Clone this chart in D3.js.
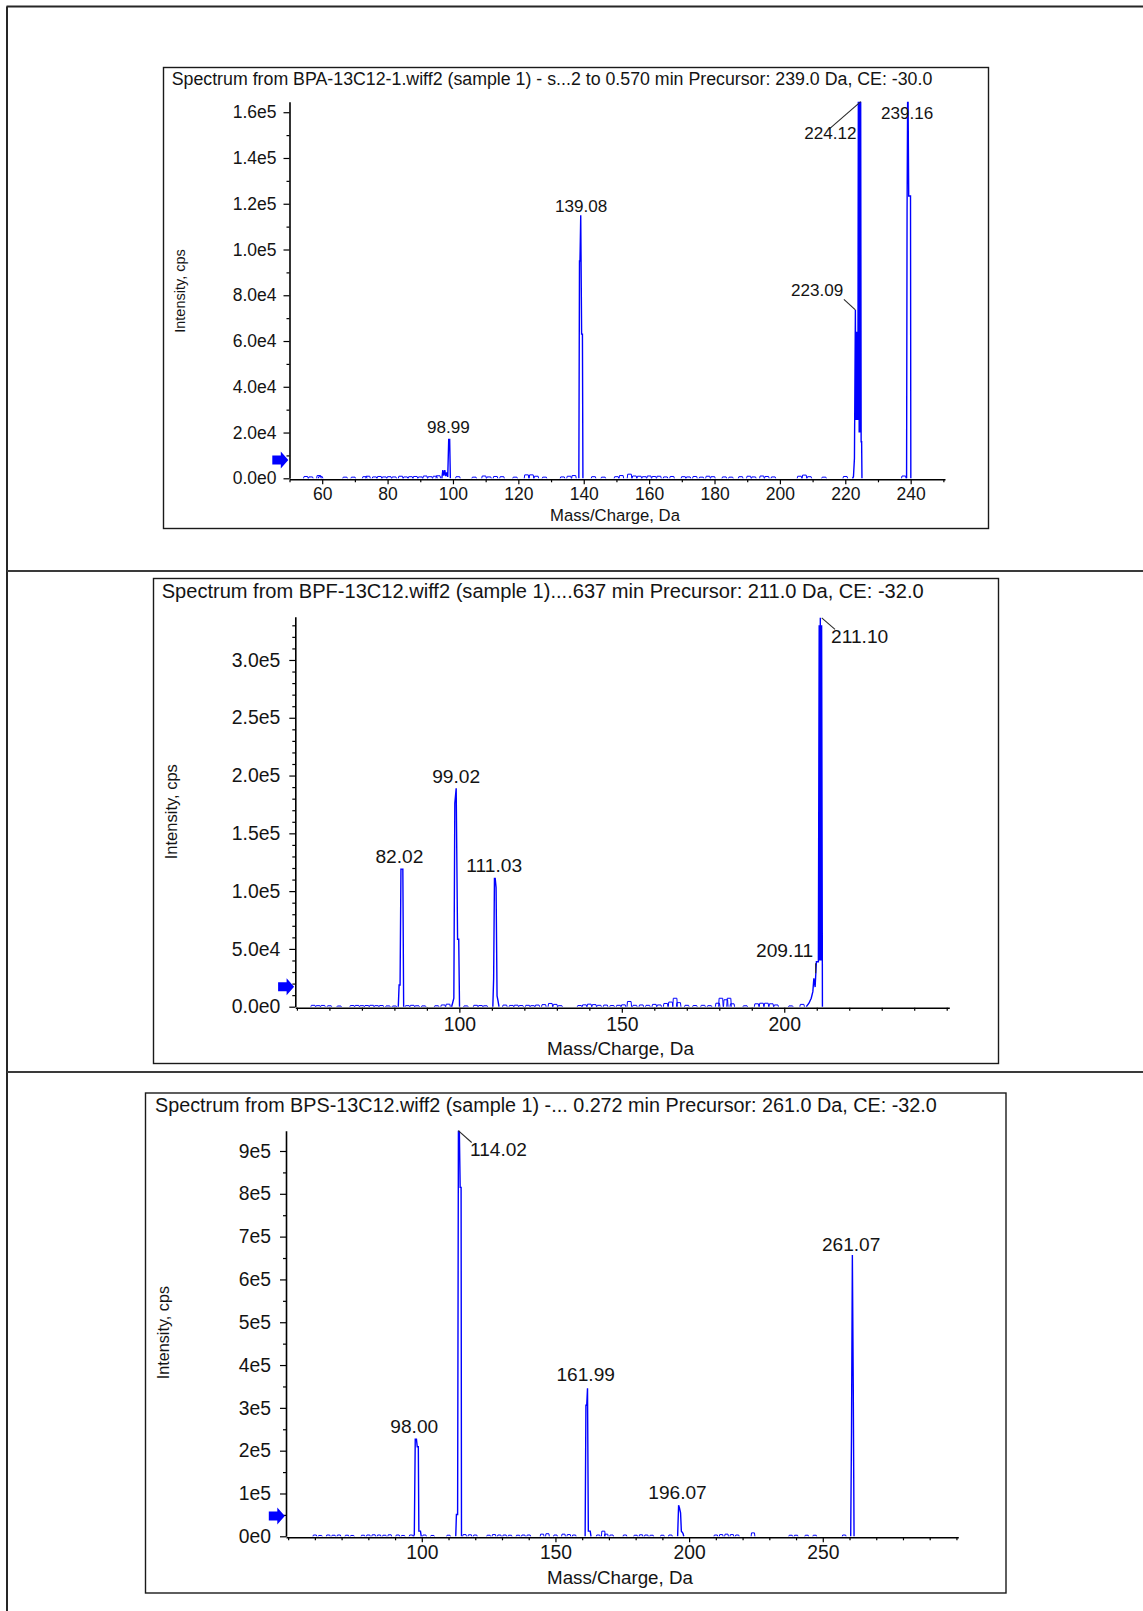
<!DOCTYPE html>
<html>
<head>
<meta charset="utf-8">
<script src="https://cdn.jsdelivr.net/npm/d3@7"></script>
<style>
  html, body { margin: 0; padding: 0; background: #fff; }
  svg { display: block; }
  text { font-family: "Liberation Sans", Arial, sans-serif; fill: #141414; }
</style>
</head>
<body>
<svg id="page" width="1143" height="1611"></svg>
<script>
// ---------------- spectrum titles ----------------
const bpaTitle = "Spectrum from BPA-13C12-1.wiff2 (sample 1) - s...2 to 0.570 min Precursor: 239.0 Da, CE: -30.0";
const bpfTitle = "Spectrum from BPF-13C12.wiff2 (sample 1)....637 min Precursor: 211.0 Da, CE: -32.0";
const bpsTitle = "Spectrum from BPS-13C12.wiff2 (sample 1) -... 0.272 min Precursor: 261.0 Da, CE: -32.0";
const xTitle = "Mass/Charge, Da";
const yTitle = "Intensity, cps";

// ---------------- BPA-13C12 (precursor 239.0) ----------------
// profile peaks: [m/z, intensity in cps]
const bpaPeaks = [
  [[96.6,0],[96.9,3600],[97.2,1200],[97.5,3600],[97.8,1000],[98.1,2600],[98.4,600],[98.7,17000],[98.99,17000],[99.2,0]],
  [[138.5,0],[138.7,95000],[138.85,95000],[139.08,115000],[139.35,63000],[139.6,63000],[139.75,0]],
  [[222.2,0],[222.5,700],[222.8,8700],[223.09,73600],[223.25,25500],[223.4,64000],[223.55,25500],[223.7,64000],[223.85,25500],[224.0,175000],[224.12,175000],[224.25,20000],[224.4,175000],[224.55,20000],[224.7,175000],[224.85,16000],[225.0,16000],[225.1,0]],
  [[238.75,0],[238.9,117300],[239.1,175000],[239.16,175000],[239.4,123400],[239.95,123400],[240.05,0]]
];
// baseline noise: [m/z, intensity in cps]
const bpaNoise = [[55,800],[56.5,600],[59,1200],[59.5,700],[67,500],[69.5,500],[73,700],[74,900],[76,600],[77.5,800],[79,600],[80.5,700],[82,600],[84,900],[85.5,600],[87,700],[88.5,800],[90,600],[91.5,1000],[93,700],[94.5,900],[95.5,1100],[101.5,700],[106.5,500],[109.5,1000],[111,600],[113,800],[115,700],[119,500],[122.5,1500],[124,1500],[125.5,900],[128,500],[133.5,600],[135.5,900],[137,1200],[143,700],[146,500],[150,700],[151.5,1200],[154,1800],[155.5,1000],[157,900],[158.5,700],[160,1000],[161.5,800],[163,900],[165,600],[167,800],[170.5,700],[172,600],[174,800],[176,500],[178,900],[179.5,700],[183,600],[185,500],[188,700],[190.5,900],[192,600],[194.5,1000],[196,800],[198,600],[206,900],[207.5,1400],[209,700],[213.5,500],[220,800],[237.9,1000]];
const bpaLabels = ["98.99","139.08","223.09","224.12","239.16"];
const bpaXTicks = [60,80,100,120,140,160,180,200,220,240];
const bpaXMinor = [50,70,90,110,130,150,170,190,210,230,250];
const bpaYTicks = [0,20000,40000,60000,80000,100000,120000,140000,160000];
const bpaYMinor = [10000,30000,50000,70000,90000,110000,130000,150000];
const bpaThreshold = 8000;

// ---------------- BPF-13C12 (precursor 211.0) ----------------
const bpfPeaks = [
  [[81.2,0],[81.45,18800],[81.75,18800],[82.02,119000],[82.6,119000],[82.85,0]],
  [[97.6,0],[97.9,3000],[98.3,7300],[98.6,176000],[99.02,189000],[99.45,58300],[99.8,58300],[100.05,0]],
  [[110.3,0],[110.55,24600],[110.8,111000],[111.03,111000],[111.3,103000],[111.6,9300],[111.9,5000],[112.2,0]],
  [[206.8,0],[207.6,3000],[208.3,7300],[208.8,13000],[209.11,24600],[209.5,17000],[209.9,38900],[210.5,38900],[210.75,330000],[210.9,40000],[211.10,336500],[211.3,40000],[211.5,330000],[211.75,0]]
];
const bpfNoise = [[55,1200],[56.5,900],[58,1100],[60,800],[63,600],[67,1000],[68.5,1100],[70,900],[71.5,1000],[73,1200],[74.5,900],[76,1000],[78,700],[80,600],[84,900],[85.5,1200],[87,800],[89,700],[93,800],[95,1500],[96.5,2200],[102,700],[105,1200],[106.5,1000],[108,800],[114,1400],[116,1100],[117.5,1300],[119,1000],[121,1200],[122.5,900],[124,1400],[126,1800],[128,2800],[129.5,2000],[131,900],[137,1000],[138.5,1600],[140,2200],[141.5,1800],[143,1200],[145,1400],[147,1000],[149,1200],[150.5,1600],[152.3,4500],[154,1200],[156,1500],[158,1200],[160,2000],[161.5,1500],[163.5,2800],[165,4000],[166.4,7300],[167.5,3500],[170,1200],[172.5,1000],[175,1200],[177,900],[179.5,3000],[180.5,7300],[182,6000],[183,7300],[184,2500],[188,800],[191.5,2500],[193,3000],[194.5,3000],[196,2500],[197.5,1500],[202,700],[205.5,2000]];
const bpfLabels = ["82.02","99.02","111.03","209.11","211.10"];
const bpfXTicks = [100,150,200];
const bpfXMinor = [50,60,70,80,90,110,120,130,140,160,170,180,190,210,220,230,240,250];
const bpfYTicks = [0,50000,100000,150000,200000,250000,300000];
const bpfYMinor = [10000,20000,30000,40000,60000,70000,80000,90000,110000,120000,130000,140000,160000,170000,180000,190000,210000,220000,230000,240000,260000,270000,280000,290000,310000,320000,330000];
const bpfThreshold = 17300;

// ---------------- BPS-13C12 (precursor 261.0) ----------------
const bpsPeaks = [
  [[96.9,0],[97.2,4000],[97.55,227000],[98.0,227000],[98.3,209000],[98.7,209000],[98.9,12000],[99.5,12000],[99.8,0]],
  [[112.7,0],[112.95,51000],[113.4,51000],[113.7,960000],[114.02,960000],[114.35,815000],[114.7,815000],[114.85,0]],
  [[161.1,0],[161.4,306000],[161.7,306000],[161.99,346000],[162.3,12000],[163.0,12000],[163.3,0]],
  [[195.7,0],[196.07,72700],[196.4,66000],[196.8,55000],[197.1,12000],[197.7,7000],[198.0,0]],
  [[260.45,0],[260.75,245000],[261.07,657000],[261.4,355000],[261.7,0]]
];
const bpsNoise = [[60,3000],[62,2000],[65,3000],[67,2500],[69,3000],[72,2500],[74,2000],[78,2500],[80,3000],[82,3500],[84,3000],[86,2500],[88,3500],[91,3000],[93,2000],[96,3000],[101,3000],[104,2000],[110,2500],[116,4000],[118,3500],[120,3000],[125,2500],[127,4000],[129,3000],[131,3000],[133,2500],[136,2500],[138,3000],[140,3000],[145,5000],[147,6000],[150,3000],[153,5000],[155,4000],[157,3000],[166,3000],[167.9,12000],[169,5000],[171,3000],[176,3000],[180,2500],[182,3500],[184,3000],[186,2500],[190,2500],[193,3000],[210,3000],[212,4000],[214,5000],[216,4000],[218,3000],[223.9,8000],[238,2500],[240,2500],[244,2500],[247,2500],[258,3000]];
const bpsLabels = ["98.00","114.02","161.99","196.07","261.07"];
const bpsXTicks = [100,150,200,250];
const bpsXMinor = [50,60,70,80,90,110,120,130,140,160,170,180,190,210,220,230,240,260,270,280,290,300];
const bpsYTicks = [0,100000,200000,300000,400000,500000,600000,700000,800000,900000];
const bpsYMinor = [50000,150000,250000,350000,450000,550000,650000,750000,850000];
const bpsThreshold = 47400;

// ---------------- layout ----------------
const BLUE = "#0000ff";
const expFormat = digits => v => d3.format("." + digits + "e")(v).replace("e+", "e");

// label placement in px relative to the peak apex
const labelPlacement = {
  "98.99":  { anchor: "middle", dx: -1.2, dy: -6.7 },
  "139.08": { anchor: "middle", dx: 0.5,  dy: -3.5 },
  "223.09": { anchor: "end",    dx: -12,  dy: -14, leader: [[0,0],[-11.5,-10.5]] },
  "224.12": { anchor: "end",    dx: -2.2, dy: 37.6, leader: [[2,0],[-28.8,26.6]] },
  "239.16": { anchor: "middle", dx: -0.7, dy: 17.6 },
  "82.02":  { anchor: "middle", dx: -1.5, dy: -6.5 },
  "99.02":  { anchor: "middle", dx: 0,    dy: -5 },
  "111.03": { anchor: "middle", dx: -1,   dy: -6.7 },
  "209.11": { anchor: "end",    dx: -0.6, dy: -21.6, leader: [[1.8,-15],[1.8,-5]] },
  "211.10": { anchor: "start",  dx: 10.7, dy: 25, leader: [[1.4,0],[14.7,11.5]] },
  "98.00":  { anchor: "middle", dx: -2.2, dy: -5.9 },
  "114.02": { anchor: "start",  dx: 10.7, dy: 25.4, leader: [[-1,0],[12.4,11.8]] },
  "161.99": { anchor: "middle", dx: -1.8, dy: -7.4 },
  "196.07": { anchor: "middle", dx: -1.1, dy: -6.1 },
  "261.07": { anchor: "middle", dx: -1.2, dy: -4.5 }
};

const panels = [
  { id: "bpa", title: bpaTitle, peaks: bpaPeaks, noise: bpaNoise, labels: bpaLabels,
    xDomain: [50, 250.5], yMax: 164600, xTicks: bpaXTicks, xMinor: bpaXMinor,
    yTicks: bpaYTicks, yMinor: bpaYMinor, yFormat: expFormat(1), threshold: bpaThreshold,
    box: [163.5, 67.5, 988.5, 528.5], left: 289.5, right: 945, top: 101.7, zero: 478.3,
    titleX: 171.7, titleY: 84.8, titleW: 760.6,
    tickFont: 17.5, labelFont: 17.1, xPad: 3.5, yPad: 7,
    xTitleX: 615, xTitleY: 521, xTitleFont: 16.7,
    yTitleX: 185, yTitleY: 291, yTitleFont: 14.5 },
  { id: "bpf", title: bpfTitle, peaks: bpfPeaks, noise: bpfNoise, labels: bpfLabels,
    xDomain: [49.5, 250.8], yMax: 337450, xTicks: bpfXTicks, xMinor: bpfXMinor,
    yTicks: bpfYTicks, yMinor: bpfYMinor, yFormat: expFormat(1), threshold: bpfThreshold,
    box: [153.5, 578.5, 998.5, 1063.5], left: 295.3, right: 949.3, top: 616.7, zero: 1006.7,
    titleX: 161.7, titleY: 597.5, titleW: 762.3,
    tickFont: 19.4, labelFont: 19.2, xPad: 5, yPad: 9,
    xTitleX: 620.5, xTitleY: 1055, xTitleFont: 18.9,
    yTitleX: 177, yTitleY: 811.7, yTitleFont: 16.5 },
  { id: "bps", title: bpsTitle, peaks: bpsPeaks, noise: bpsNoise, labels: bpsLabels,
    xDomain: [49.2, 300.7], yMax: 947400, xTicks: bpsXTicks, xMinor: bpsXMinor,
    yTicks: bpsYTicks, yMinor: bpsYMinor, yFormat: expFormat(0), threshold: bpsThreshold,
    box: [145.5, 1093, 1006, 1593], left: 286, right: 958.3, top: 1130.7, zero: 1536.3,
    titleX: 155, titleY: 1112, titleW: 782.3,
    tickFont: 19.3, labelFont: 19.1, xPad: 3.3, yPad: 9,
    xTitleX: 620, xTitleY: 1584, xTitleFont: 18.75,
    yTitleX: 168.5, yTitleY: 1332.6, yTitleFont: 16.2 }
];

const svg = d3.select("#page");

// page frame: outer rule and row separators
const frame = svg.append("g").attr("stroke", "#262626").attr("stroke-width", 2).attr("fill", "none");
frame.append("line").attr("x1", 6.5).attr("x2", 1143).attr("y1", 6.5).attr("y2", 6.5);
frame.append("line").attr("x1", 7).attr("x2", 7).attr("y1", 6.5).attr("y2", 1611);
[571, 1072].forEach(yy => frame.append("line").attr("x1", 7).attr("x2", 1143).attr("y1", yy).attr("y2", yy).attr("stroke", "#3a3a3a"));

panels.forEach(P => {
  const g = svg.append("g").attr("class", "panel-" + P.id);
  const x = d3.scaleLinear().domain(P.xDomain).range([P.left, P.right]);
  const y = d3.scaleLinear().domain([0, P.yMax]).range([P.zero, P.top]);

  // panel box
  const [bx0, by0, bx1, by1] = P.box;
  g.append("rect").attr("x", bx0).attr("y", by0).attr("width", bx1 - bx0).attr("height", by1 - by0)
    .attr("fill", "none").attr("stroke", "#1a1a1a").attr("stroke-width", 1.4);

  // title, fitted to its measured width
  const t = g.append("text").attr("x", P.titleX).attr("y", P.titleY).style("font-size", "16px").text(P.title);
  const len = t.node().getComputedTextLength();
  t.style("font-size", (16 * P.titleW / len).toFixed(2) + "px");

  // clip for the trace
  g.append("clipPath").attr("id", "clip-" + P.id).append("rect")
    .attr("x", P.left).attr("y", P.top).attr("width", P.right - P.left).attr("height", P.zero - P.top + 1.5);
  const plot = g.append("g").attr("clip-path", `url(#clip-${P.id})`);

  // baseline noise: short flat-topped blips
  plot.selectAll("path.noise").data(P.noise).join("path").attr("class", "noise")
    .attr("d", d => `M${x(d[0] - 0.7)},${y(0)}L${x(d[0] - 0.55)},${y(d[1])}L${x(d[0] + 0.55)},${y(d[1])}L${x(d[0] + 0.7)},${y(0)}`)
    .attr("fill", "none").attr("stroke", BLUE).attr("stroke-width", 1);

  // profile peaks
  const line = d3.line().x(d => x(d[0])).y(d => y(d[1]));
  plot.selectAll("path.peak").data(P.peaks).join("path").attr("class", "peak")
    .attr("d", line).attr("fill", "none").attr("stroke", BLUE).attr("stroke-width", 1.4)
    .attr("stroke-linejoin", "miter");

  // axes
  const yAxis = g.append("g").attr("transform", `translate(${P.left},0)`)
    .call(d3.axisLeft(y).tickValues(P.yTicks).tickFormat(P.yFormat).tickSize(6).tickSizeOuter(0).tickPadding(P.yPad));
  g.append("g").attr("transform", `translate(${P.left},0)`)
    .call(d3.axisLeft(y).tickValues(P.yMinor).tickFormat("").tickSize(3).tickSizeOuter(0))
    .call(a => a.select(".domain").remove());
  const xAxis = g.append("g").attr("transform", `translate(0,${P.zero + 1})`)
    .call(d3.axisBottom(x).tickValues(P.xTicks).tickFormat(d3.format("d")).tickSize(5).tickSizeOuter(0).tickPadding(P.xPad));
  g.append("g").attr("transform", `translate(0,${P.zero + 1})`)
    .call(d3.axisBottom(x).tickValues(P.xMinor).tickFormat("").tickSize(3).tickSizeOuter(0))
    .call(a => a.select(".domain").remove());
  g.selectAll(".domain").attr("stroke", "#000").attr("stroke-width", 1.6);
  g.selectAll(".tick line").attr("stroke", "#000").attr("stroke-width", 1.2);
  [yAxis, xAxis].forEach(a => a.selectAll("text")
    .style("font-family", '"Liberation Sans", Arial, sans-serif')
    .style("font-size", P.tickFont + "px").attr("fill", "#141414"));

  // axis titles
  g.append("text").attr("x", P.xTitleX).attr("y", P.xTitleY).attr("text-anchor", "middle")
    .style("font-size", P.xTitleFont + "px").text(xTitle);
  g.append("text").attr("transform", `translate(${P.yTitleX},${P.yTitleY}) rotate(-90)`)
    .attr("text-anchor", "middle").style("font-size", P.yTitleFont + "px").text(yTitle);

  // intensity threshold marker
  g.append("path").attr("transform", `translate(${P.left - 1.2},${y(P.threshold)})`)
    .attr("d", "M-16,-4.5L-7.5,-4.5L-7.5,-8.5L0,0L-7.5,8.5L-7.5,4.5L-16,4.5Z").attr("fill", BLUE);

  // peak labels, anchored at each labelled apex
  const allPts = P.peaks.flat();
  P.labels.forEach(lbl => {
    const mz = +lbl;
    const pt = allPts.find(p => Math.abs(p[0] - mz) < 1e-6);
    const ax = x(mz), ay = y(Math.min(pt[1], P.yMax));
    const L = labelPlacement[lbl];
    if (L.leader) {
      g.append("line").attr("x1", ax + L.leader[0][0]).attr("y1", ay + L.leader[0][1])
        .attr("x2", ax + L.leader[1][0]).attr("y2", ay + L.leader[1][1])
        .attr("stroke", "#2a2a2a").attr("stroke-width", 1.1);
    }
    g.append("text").attr("x", ax + L.dx).attr("y", ay + L.dy).attr("text-anchor", L.anchor)
      .style("font-size", P.labelFont + "px").text(lbl);
  });
});
</script>
</body>
</html>
